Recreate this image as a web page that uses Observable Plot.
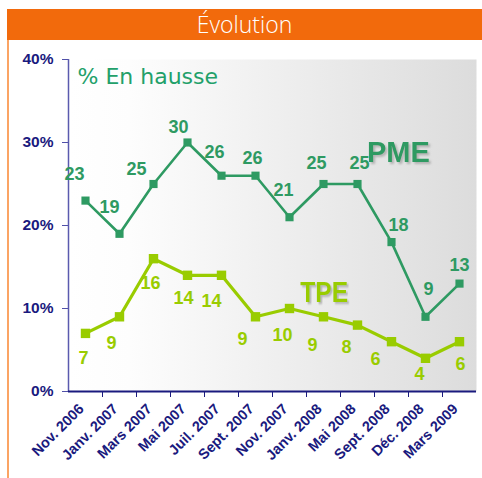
<!DOCTYPE html>
<html><head><meta charset="utf-8">
<script src="https://cdn.jsdelivr.net/npm/d3@7"></script>
<script src="https://cdn.jsdelivr.net/npm/@observablehq/plot@0.6"></script>
<style>
body{margin:0;background:#fff;width:482px;height:478px;position:relative;overflow:hidden;font-family:"Liberation Sans",Arial,sans-serif}
#title{position:absolute;left:7px;top:9px;width:475px;height:31px;background:#F26A0C;color:#fff;font:300 23px "Open Sans",sans-serif;text-align:center;line-height:31px}
#edge{position:absolute;left:7px;top:40px;width:2px;bottom:0;background:#FBA464}
#chart{position:absolute;left:0;top:40px}
</style></head><body>
<div id="title">Évolution</div><div id="edge"></div><div id="chart"></div>
<script>
const months = ["Nov. 2006","Janv. 2007","Mars 2007","Mai 2007","Juil. 2007","Sept. 2007","Nov. 2007","Janv. 2008","Mai 2008","Sept. 2008","Déc. 2008","Mars 2009"];
const pme = [23,19,25,30,26,26,21,25,25,18,9,13];
const tpe = [7,9,16,14,14,9,10,9,8,6,4,6];
const yTicks = [0,10,20,30,40];

// label placement (layout only)
const pmeOff = [[-11,-26],[-10,-27],[-17,-15],[-9,-15],[-7,-23],[-3,-17],[-6,-27],[-7,-21],[2,-21],[7,-17],[3,-28],[0,-18]];
const tpeOff = [[-2,25],[-8,26],[-3,25],[-4,23],[-10,26],[-13,22],[-7,27],[-11,28],[-11,22],[-16,18],[-6,16],[1,23]];

const PME_C = "#2E9A62", TPE_C = "#99CC00", NAVY = "#1A1A7E";
const pmeData = pme.map((v,i)=>({i, v}));
const tpeData = tpe.map((v,i)=>({i, v}));

const labelMarks = (data, off, color) => data.map((d,k)=>Plot.text([d], {
  x:"i", y:"v", text:d=>String(d.v), dx:off[k][0], dy:off[k][1],
  fill:color, fontSize:18, fontWeight:"bold", fontFamily:"Liberation Sans, Arial, sans-serif"
}));

const chart = Plot.plot({
  width:482, height:438,
  marginTop:19, marginBottom:87, marginLeft:68, marginRight:6,
  x:{type:"linear", domain:[-0.5,11.5]},
  y:{domain:[0,40]},
  style:{fontFamily:"Liberation Sans, Arial, sans-serif", background:"transparent"},
  marks:[
    Plot.frame({fill:"url(#bgGrad)", stroke:null}),
    Plot.axisY({ticks:yTicks, tickFormat:d=>d+"%", tickSize:6, tickPadding:9, stroke:"#5050A8", fill:NAVY, fontSize:15.5, fontWeight:"bold", label:null}),
    Plot.axisX({ticks:d3.range(0.5,11,1), tickFormat:()=>"", tickSize:6, stroke:NAVY, label:null}),
    Plot.axisX({ticks:d3.range(12), tickFormat:i=>months[i], tickSize:0, tickPadding:15, dx:-4, tickRotate:-45, fill:NAVY, fontSize:14.5, fontWeight:"bold", label:null}),
    Plot.ruleX([-0.5], {stroke:"#5A5AAE", strokeWidth:1.5}),
    Plot.ruleY([0], {stroke:NAVY, strokeWidth:2}),
    Plot.text(["% En hausse"], {frameAnchor:"top-left", dx:9, dy:9, lineAnchor:"top", textAnchor:"start", fill:"#22A06A", fontSize:22, fontFamily:"DejaVu Sans, Verdana, sans-serif"}),
    Plot.text(["PME"], {x:()=>9.2, y:()=>28.8, fill:PME_C, fontSize:29, fontWeight:"bold"}),
    Plot.text(["TPE"], {x:()=>7.02, y:()=>12, fill:TPE_C, fontSize:30, fontWeight:"bold"}),
    Plot.line(pmeData, {x:"i", y:"v", stroke:PME_C, strokeWidth:2.6}),
    Plot.dot(pmeData, {x:"i", y:"v", symbol:"square", r:4.6, fill:PME_C, stroke:null}),
    Plot.line(tpeData, {x:"i", y:"v", stroke:TPE_C, strokeWidth:3.2}),
    Plot.dot(tpeData, {x:"i", y:"v", symbol:"square", r:5.3, fill:TPE_C, stroke:null}),
    ...labelMarks(pmeData, pmeOff, PME_C),
    ...labelMarks(tpeData, tpeOff, TPE_C)
  ]
});
const ns = "http://www.w3.org/2000/svg";
const defs = document.createElementNS(ns, "defs");
defs.innerHTML = '<linearGradient id="bgGrad" x1="0" x2="1" y1="0" y2="0"><stop offset="0" stop-color="#FFFFFF"/><stop offset="0.15" stop-color="#FDFDFD"/><stop offset="1" stop-color="#DCDCDC"/></linearGradient>' +
  '<filter id="shadow" x="-20%" y="-20%" width="150%" height="150%"><feDropShadow dx="2" dy="2" stdDeviation="0.8" flood-color="#888" flood-opacity="0.55"/></filter>';
chart.insertBefore(defs, chart.firstChild);
chart.querySelectorAll("text").forEach(t => {
  if (t.textContent === "PME" || t.textContent === "TPE") {
    t.setAttribute("filter", "url(#shadow)");
    if (t.textContent === "TPE") {
      const tr = t.getAttribute("transform") || "";
      t.setAttribute("transform", tr + " scale(0.82,1)");
    }
  }
});
document.getElementById("chart").appendChild(chart);
</script>
</body></html>
